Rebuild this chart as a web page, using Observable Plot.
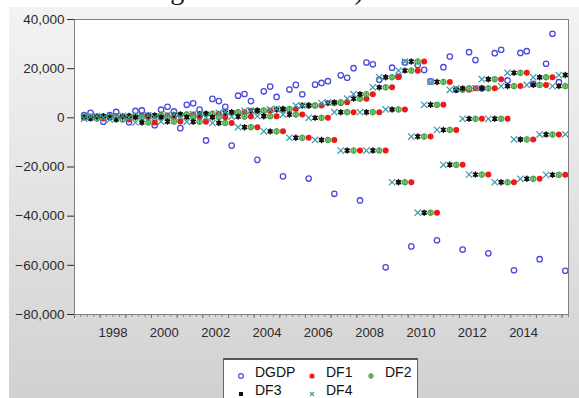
<!DOCTYPE html>
<html>
<head>
<meta charset="utf-8">
<script src="https://cdn.jsdelivr.net/npm/d3@7"></script>
<script src="https://cdn.jsdelivr.net/npm/@observablehq/plot@0.6"></script>
<style>
html,body{margin:0;padding:0;background:#fff;width:579px;height:398px;overflow:hidden;}
#wrap{position:relative;width:579px;height:398px;overflow:hidden;font-family:"Liberation Sans",Arial,sans-serif;}
#doc{position:absolute;left:21px;top:-24px;font-family:"Liberation Serif","Times New Roman",serif;font-size:28px;line-height:1;white-space:nowrap;color:#111;}
#panel{position:absolute;left:9px;top:7px;width:570px;height:391px;background:linear-gradient(#f3f3f3,#e6e6e6 40%,#d1d1d1);}
#chart{position:absolute;left:0;top:0;}
#legend{position:absolute;left:223px;top:358px;width:195px;height:60px;background:#fff;border:1px solid #666;border-top:2px solid #555;box-sizing:border-box;}
.li{position:absolute;font-size:14px;color:#111;line-height:1;}
.lm{position:absolute;}
</style>
</head>
<body>
<div id="wrap">
  <div id="doc">variation of agr value of GDP).</div>
  <div id="panel"></div>
  <div id="chart"></div>
  <div id="legend"></div>
</div>
<script>
// ---------- data (quarterly, first observation 1997Q2) ----------
const startYear = 1997;
const startQuarter = 2;
const nObs = 76; // 1997Q2 .. 2016Q1

const seriesNames = ["DGDP", "DF1", "DF2", "DF3", "DF4"];
const yTicks = [-80000, -60000, -40000, -20000, 0, 20000, 40000];
const xLabelYears = [1998, 2000, 2002, 2004, 2006, 2008, 2010, 2012, 2014];

const DGDP = [
  1100, 2000, 400,
  -1600, 1100, 2400, 300,
  -1800, 2800, 3000, 900,
  -3000, 3300, 4500, 2600,
  -4200, 5300, 5900, 3400,
  -9200, 7700, 6800, 4500,
  -11300, 9000, 9700, 6800,
  -17100, 10800, 12700, 8500,
  -23800, 11500, 13400, 9600,
  -24700, 13500, 14200, 14900,
  -30900, 17300, 16300, 20200,
  -33600, 22500, 21800, 15500,
  -60800, 20400, 16800, 22500,
  -52300, 21500, 19500, 14800,
  -49800, 20600, 24900, 11400,
  -53600, 26700, 23500, 12000,
  -55100, 26300, 27700, 15200,
  -62000, 26400, 27100, 13800,
  -57500, 22000, 34200, 14500,
  -62200
];

const DF1 = [
  300, 500, 100,
  -300, 500, 700, 100,
  -700, 600, 800, 200,
  -1900, 800, 1000, 200,
  -1500, 1200, 1400, 300,
  -1600, 1500, 1700, 250,
  -2100, 2000, 2300, 500,
  -3800, 2800, 3000, 650,
  -5500, 3400, 3600, 1350,
  -8100, 5000, 5000, 0,
  -9000, 6000, 6300, 2300,
  -13300, 7800, 9600, 2300,
  -13300, 12400, 16500, 3400,
  -26200, 19200, 22900, -7600,
  -38600, 5300, 14600, -4900,
  -19100, 11400, 12000, -400,
  -23100, 12000, 15700, -400,
  -26200, 12900, 18300, -8800,
  -24800, 13400, 16500, -6800,
  -23200
];

const DF2 = [
  500, 100,
  -300, 500, 700, 100,
  -700, 600, 800, 200,
  -1900, 800, 1000, 200,
  -1500, 1200, 1400, 300,
  -1600, 1500, 1700, 250,
  -2100, 2000, 2300, 500,
  -3800, 2800, 3000, 650,
  -5500, 3400, 3600, 1350,
  -8100, 5000, 5000, 0,
  -9000, 6000, 6300, 2300,
  -13300, 7800, 9600, 2300,
  -13300, 12400, 16500, 3400,
  -26200, 19200, 22900, -7600,
  -38600, 5300, 14600, -4900,
  -19100, 11400, 12000, -400,
  -23100, 12000, 15700, -400,
  -26200, 12900, 18300, -8800,
  -24800, 13400, 16500, -6800,
  -23200, 12900
];

const DF3 = [
  100,
  -300, 500, 700, 100,
  -700, 600, 800, 200,
  -1900, 800, 1000, 200,
  -1500, 1200, 1400, 300,
  -1600, 1500, 1700, 250,
  -2100, 2000, 2300, 500,
  -3800, 2800, 3000, 650,
  -5500, 3400, 3600, 1350,
  -8100, 5000, 5000, 0,
  -9000, 6000, 6300, 2300,
  -13300, 7800, 9600, 2300,
  -13300, 12400, 16500, 3400,
  -26200, 19200, 22900, -7600,
  -38600, 5300, 14600, -4900,
  -19100, 11400, 12000, -400,
  -23100, 12000, 15700, -400,
  -26200, 12900, 18300, -8800,
  -24800, 13400, 16500, -6800,
  -23200, 12900, 17400
];

const DF4 = [
  -300, 500, 700, 100,
  -700, 600, 800, 200,
  -1900, 800, 1000, 200,
  -1500, 1200, 1400, 300,
  -1600, 1500, 1700, 250,
  -2100, 2000, 2300, 500,
  -3800, 2800, 3000, 650,
  -5500, 3400, 3600, 1350,
  -8100, 5000, 5000, 0,
  -9000, 6000, 6300, 2300,
  -13300, 7800, 9600, 2300,
  -13300, 12400, 16500, 3400,
  -26200, 19200, 22900, -7600,
  -38600, 5300, 14600, -4900,
  -19100, 11400, 12000, -400,
  -23100, 12000, 15700, -400,
  -26200, 12900, 18300, -8800,
  -24800, 13400, 16500, -6800,
  -23200, 12900, 17400, -6700
];

// ---------- time index ----------
const periods = d3.range(nObs).map(i => {
  const k = (startQuarter - 1) + i;
  const year = startYear + Math.floor(k / 4);
  const q = (k % 4) + 1;
  return year + (q - 0.5) / 4; // centre of the quarter
});
const quarterBounds = d3.range(1997, 2016.25 + 1e-9, 0.25);
const yearBounds = d3.range(1997, 2017, 1);

const rows = (vals) => vals.map((v, i) => ({t: periods[i], v}));

// ---------- custom symbols ----------
const phiSymbol = {draw(ctx, size) {
  const r = Math.sqrt(size / Math.PI);
  ctx.moveTo(r, 0); ctx.arc(0, 0, r, 0, 2 * Math.PI);
  ctx.moveTo(0, -r); ctx.lineTo(0, r);
}};
const starSymbol = {draw(ctx, size) {
  const r = Math.sqrt(size / Math.PI);
  for (let k = 0; k < 3; k++) {
    const a = Math.PI / 2 + k * Math.PI / 3;
    ctx.moveTo(r * Math.cos(a), r * Math.sin(a));
    ctx.lineTo(-r * Math.cos(a), -r * Math.sin(a));
  }
  const s = r * 0.5;
  ctx.moveTo(-s, -s); ctx.lineTo(s, -s); ctx.lineTo(s, s); ctx.lineTo(-s, s); ctx.closePath();
}};

const colors = {DGDP: "#4a4ae0", DF1: "#f01818", DF2: "#3f9f3f", DF2fill: "#7cc87c", DF3: "#111", DF4: "#3a9aa8"};

const chart = Plot.plot({
  width: 579, height: 398,
  marginLeft: 74, marginRight: 11, marginTop: 19, marginBottom: 84,
  style: {background: "transparent", fontFamily: "'Liberation Sans', Arial, sans-serif", fontSize: "13px", color: "#2a2a2a", overflow: "visible"},
  x: {domain: [1997, 2016.25]},
  y: {domain: [-80000, 40000]},
  marks: [
    Plot.frame({fill: "white", stroke: "none"}),
    Plot.axisY({ticks: yTicks, tickFormat: d3.format(","), tickSize: 7, tickPadding: 3, label: null, fontSize: 13.5}),
    Plot.axisX({ticks: quarterBounds, tickFormat: () => "", tickSize: 3, label: null, stroke: "#888"}),
    Plot.axisX({ticks: yearBounds, tickFormat: () => "", tickSize: 4, label: null, stroke: "#777"}),
    Plot.axisX({ticks: xLabelYears.map(y => y + 0.5), tickFormat: d => String(Math.floor(d)), tickSize: 0, tickPadding: 13, label: null, fontSize: 13}),
    Plot.dot(rows(DGDP), {x: "t", y: "v", r: 2.7, stroke: colors.DGDP, strokeWidth: 1.3, fill: "none"}),
    Plot.dot(rows(DF1), {x: "t", y: "v", r: 3, fill: colors.DF1, stroke: "none"}),
    Plot.dot(rows(DF2), {x: "t", y: "v", r: 2.8, symbol: phiSymbol, fill: colors.DF2fill, stroke: colors.DF2, strokeWidth: 1}),
    Plot.dot(rows(DF3), {x: "t", y: "v", r: 3.2, symbol: starSymbol, fill: colors.DF3, stroke: colors.DF3, strokeWidth: 1.2}),
    Plot.dot(rows(DF4), {x: "t", y: "v", r: 3, symbol: "times", stroke: colors.DF4, strokeWidth: 1.2}),
    Plot.frame({stroke: "#808080", strokeWidth: 1})
  ]
});
document.getElementById("chart").appendChild(chart);

// ---------- legend ----------
const legendItems = [
  {name: "DGDP", row: 0, col: 0, svg: `<circle cx="5" cy="5" r="2.4" fill="none" stroke="${colors.DGDP}" stroke-width="1.2"/>`},
  {name: "DF1", row: 0, col: 1, svg: `<circle cx="5" cy="5" r="2.6" fill="${colors.DF1}"/>`},
  {name: "DF2", row: 0, col: 2, svg: `<circle cx="5" cy="5" r="2.3" fill="${colors.DF2fill}" stroke="${colors.DF2}" stroke-width="0.9"/><line x1="5" y1="2.7" x2="5" y2="7.3" stroke="${colors.DF2}" stroke-width="0.9"/>`},
  {name: "DF3", row: 1, col: 0, svg: `<rect x="3" y="3" width="4" height="4" fill="${colors.DF3}"/>`},
  {name: "DF4", row: 1, col: 1, svg: `<path d="M3,3L7,7M7,3L3,7" stroke="${colors.DF4}" stroke-width="1.1"/>`}
];
const colX = [17, 88, 147];   // marker centre offsets inside the legend box
const rowY = [12, 29.5];
const leg = document.getElementById("legend");
legendItems.forEach(it => {
  const m = document.createElement("div");
  m.className = "lm";
  m.style.left = (colX[it.col] - 5) + "px";
  m.style.top = (rowY[it.row] - 5) + "px";
  m.innerHTML = `<svg width="10" height="10">${it.svg}</svg>`;
  leg.appendChild(m);
  const t = document.createElement("div");
  t.className = "li";
  t.textContent = it.name;
  t.style.left = (colX[it.col] + 14) + "px";
  t.style.top = (rowY[it.row] - 7) + "px";
  leg.appendChild(t);
});
</script>
</body>
</html>
